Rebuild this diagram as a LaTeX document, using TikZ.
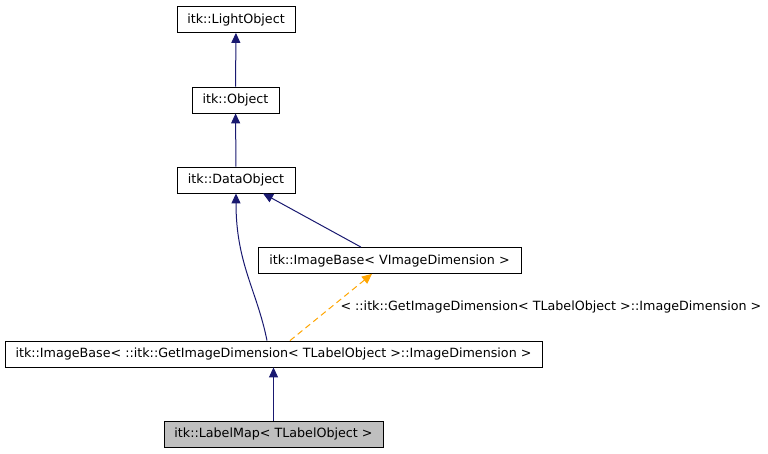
\documentclass[tikz,border=0pt]{standalone}
\usepackage{fontspec}
\setmainfont{DejaVu Sans}
\usepackage{tikz}
\usetikzlibrary{positioning, arrows.meta}

\definecolor{edgeblue}{HTML}{191970}
\definecolor{edgeorange}{HTML}{FFA500}
\definecolor{classgray}{HTML}{BFBFBF}

\begin{document}
\begin{tikzpicture}[
        x=1pt, y=-1pt,
        font=\fontsize{12.7}{15}\selectfont,
        cls/.style={draw, rectangle, minimum height=26pt, inner sep=0pt, align=center, thick},
        inh/.style={{Triangle[length=10pt,width=9pt,fill=edgeblue]}-, draw=edgeblue, line width=1pt},
        tmpl/.style={{Triangle[length=10pt,width=9pt,fill=edgeorange]}-, draw=edgeorange, line width=1pt, dash pattern=on 6pt off 4pt}
    ]
    \useasboundingbox (0,0) rectangle (768,453);

    % Klassen
    \node[cls, minimum width=118pt] (lightobj) at (236,19.5) {itk::LightObject};
    \node[cls, minimum width=87pt] (object) at (235.5,100) {itk::Object};
    \node[cls, minimum width=118pt] (dataobj) at (236,180) {itk::DataObject};
    \node[cls, minimum width=263pt] (imgbasev) at (389.5,260.5) {itk::ImageBase< VImageDimension >};
    \node[cls, minimum width=537pt] (imgbase) at (273.5,354) {itk::ImageBase< ::itk::GetImageDimension< TLabelObject >::ImageDimension >};
    \node[cls, minimum width=219pt, fill=classgray] (labelmap) at (273.5,434) {itk::LabelMap< TLabelObject >};

    % Vererbung (Pfeil zeigt auf die Basisklasse)
    \draw[inh] (lightobj) -- (object);
    \draw[inh] (object) -- (dataobj);
    \draw[inh] ([xshift=27pt]dataobj.south) -- ([xshift=-28.5pt]imgbasev.north);
    \draw[inh] (dataobj.south) .. controls +(0,70) and +(-10,-50) .. ([xshift=-6.5pt]imgbase.north);
    \draw[inh] (imgbase) -- (labelmap);

    % Template-Instanziierung
    \draw[tmpl] ([xshift=-17.5pt]imgbasev.south) -- ([xshift=16.5pt]imgbase.north)
        node[pos=0.5, right=7pt, inner sep=2pt, text=black] {< ::itk::GetImageDimension< TLabelObject >::ImageDimension >};

\end{tikzpicture}
\end{document}
